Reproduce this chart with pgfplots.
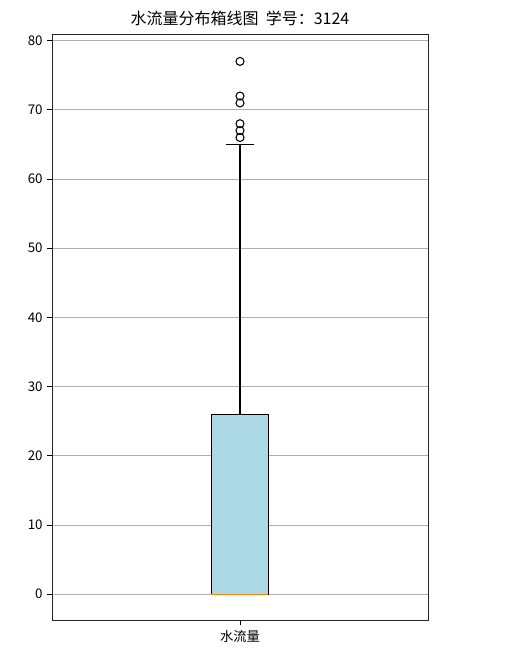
\documentclass[border=0pt]{standalone}
\usepackage{fontspec}
\setmainfont{Noto Sans CJK SC}
\usepackage{pgfplots}
\pgfplotsset{compat=1.18}
\definecolor{lightbluebox}{HTML}{ADD8E6}
\definecolor{mplorange}{HTML}{FF7F0E}
\definecolor{gridgray}{HTML}{B0B0B0}
\begin{document}
\begin{tikzpicture}
\useasboundingbox (0,0) rectangle (393pt,498pt);
\begin{axis}[
  at={(39pt,32.4pt)}, anchor=south west,
  scale only axis, width=282pt, height=439.5pt,
  xmin=0.5, xmax=1.5, ymin=-3.85, ymax=80.85,
  xtick={1}, xticklabels={水流量},
  ytick={0,10,20,30,40,50,60,70,80},
  ymajorgrids, major grid style={gridgray, line width=0.6pt},
  tick align=outside, tick pos=left,
  major tick length=3.5pt,
  axis line style={black!85, line width=0.7pt},
  tick style={black, line width=0.6pt},
  /pgf/number format/assume math mode=true,
  ticklabel style={font=\fontsize{10}{12}\selectfont},
  title={水流量分布箱线图\ \ 学号：3124},
  title style={font=\fontsize{12}{14}\selectfont, yshift=-3pt},
]
% box (Q1=0, Q3=26)
\addplot[draw=black, fill=lightbluebox, line width=0.8pt, line join=miter] coordinates {(0.925,0) (1.075,0) (1.075,26) (0.925,26) (0.925,0)};
% whiskers
\addplot[black, line width=0.8pt] coordinates {(1,26) (1,65)};
\addplot[black, line width=0.8pt] coordinates {(0.9625,65) (1.0375,65)};
\addplot[black, line width=0.8pt] coordinates {(0.9625,0) (1.0375,0)};
% median
\addplot[mplorange, line width=0.8pt] coordinates {(0.925,0) (1.075,0)};
% outliers
\addplot[only marks, mark=o, mark size=3pt, mark options={draw=black, fill=white, line width=0.8pt}]
  coordinates {(1,66) (1,67) (1,68) (1,71) (1,72) (1,77)};
\end{axis}
\end{tikzpicture}
\end{document}
